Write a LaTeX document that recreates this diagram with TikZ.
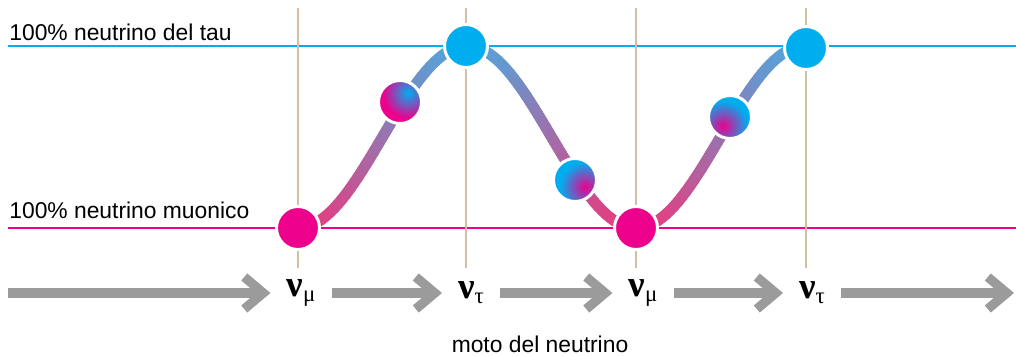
\documentclass[tikz,border=0pt]{standalone}
\usepackage{fontspec}
\setmainfont{Liberation Sans}
\newfontfamily\greekfont{Liberation Serif}
\usetikzlibrary{arrows.meta,calc}
\definecolor{taublue}{RGB}{0,174,239}
\definecolor{mupink}{RGB}{236,0,140}
\definecolor{curveblue}{RGB}{84,164,218}
\definecolor{curvepink}{RGB}{228,62,128}
\definecolor{guide}{RGB}{212,192,160}
\definecolor{flowgray}{RGB}{155,155,155}
\newcommand\nulabel[1]{{\greekfont\bfseries ν}\raisebox{-0.25ex}{\greekfont\fontsize{13}{15}\selectfont #1}}

\begin{document}
\begin{tikzpicture}[x=0.02cm,y=-0.02cm,
  dot/.style={circle,minimum size=0.86cm,inner sep=0pt,draw=white,line width=1.7pt},
  mixdot/.style n args={3}{dot,path picture={\fill[#2] (path picture bounding box.south west) rectangle (path picture bounding box.north east);
    \shade[inner color=#1,outer color=#2] ($(path picture bounding box.center)+#3$) circle (0.5cm);}},
  lbl/.style={font=\fontsize{13}{15}\selectfont,inner sep=0pt},
  nu/.style={font=\fontsize{21}{24}\selectfont,inner xsep=9pt},
  flow/.style={flowgray,line width=5.3pt,-{Straight Barb[length=3.8mm,width=6.4mm]}}]
\useasboundingbox (0,0) rectangle (1016,355);
% guide lines
\draw[taublue,line width=0.7pt] (8,46) -- (1016,46);
\draw[mupink,line width=0.6pt] (8,228) -- (1016,228);
\foreach \x in {298,466,636,806}{\draw[guide,line width=1.1pt] (\x,8) -- (\x,268);}
\node[lbl,anchor=base west] (tau) at (9,40) {100\% neutrino del tau};
\node[lbl,anchor=base west] (muon) at (9,218) {100\% neutrino muonico};
% oscillation curve
\foreach \i in {0,...,126}{
  \pgfmathsetmacro\xa{298+4*\i} \pgfmathsetmacro\xb{\xa+4}
  \pgfmathsetmacro\ya{137+91*cos((\xa-298)/169*180)}
  \pgfmathsetmacro\yb{137+91*cos((\xb-298)/169*180)}
  \pgfmathtruncatemacro\p{(228-(\ya+\yb)/2)/1.82}
  \draw[curveblue!\p!curvepink,line width=6.3pt,line cap=round] (\xa,\ya) -- (\xb,\yb);
}
\foreach \n/\x/\y/\c in {m1/298/228/mupink,t1/466/46/taublue,m2/636/228/mupink,t2/806/48/taublue}{\node[dot,fill=\c] (\n) at (\x,\y) {};}
\node[mixdot={taublue}{mupink}{(8,-9)}] (a) at (400,102) {};
\node[mixdot={mupink}{taublue}{(10,7)}] (b) at (575,180) {};
\node[mixdot={mupink}{taublue}{(-7,9)}] (c) at (730,117) {};
% motion
\coordinate (in) at (8,293); \coordinate (out) at (1014,293);
\foreach \n/\x/\s in {l1/301/μ,l2/471/τ,l3/643/μ,l4/812/τ}{\node[nu] (\n) at (\x,293) {\nulabel{\s}};}
\draw[flow] (in) -- (in -| l1.west);
\draw[flow] (l1) -- (l2);
\draw[flow] (l2) -- (l3);
\draw[flow] (l3) -- (l4);
\draw[flow] (out -| l4.east) -- (out);
\node[lbl,anchor=base] (motion) at (540,352) {moto del neutrino};
\end{tikzpicture}
\end{document}
